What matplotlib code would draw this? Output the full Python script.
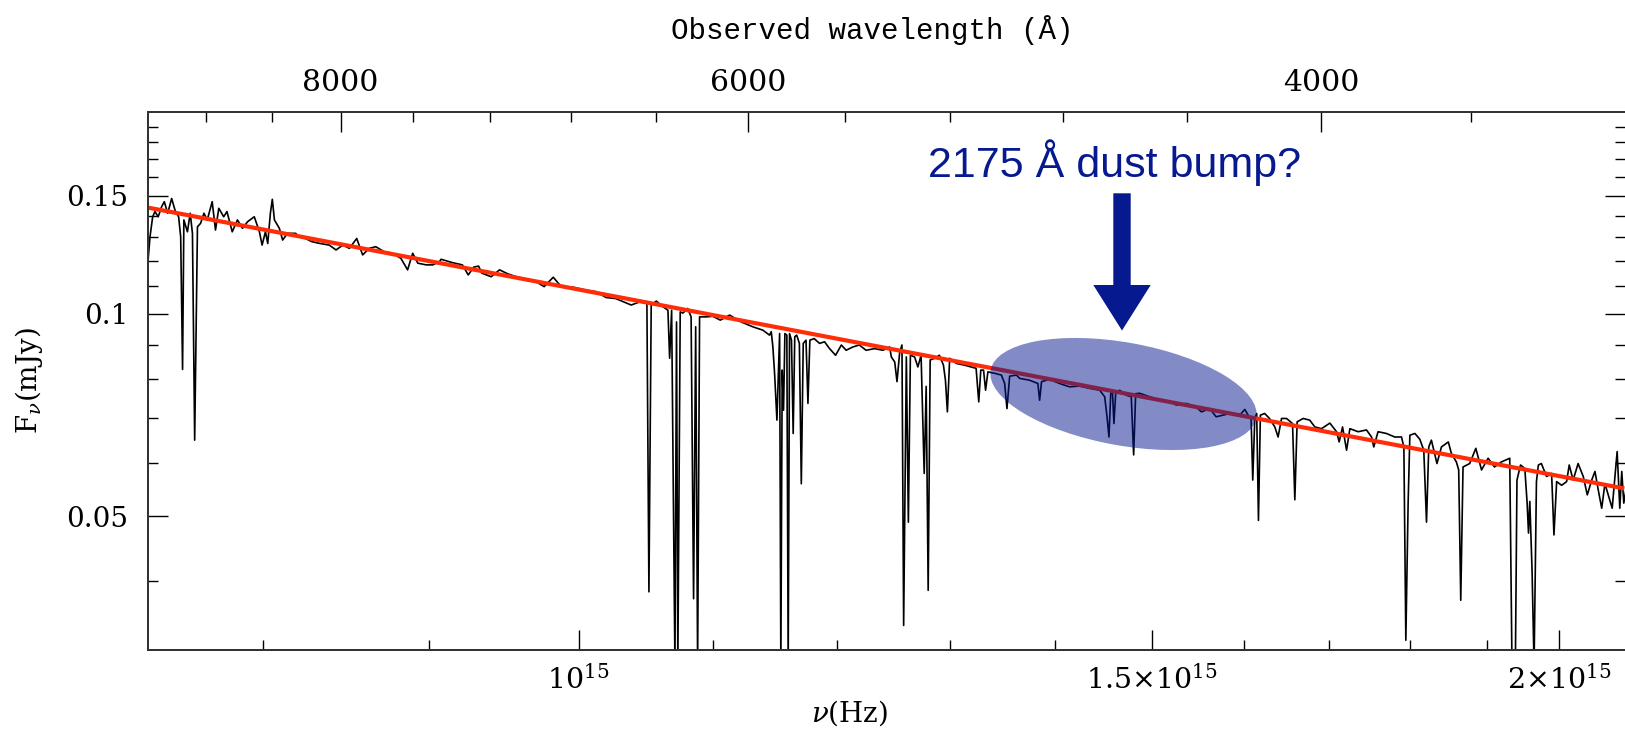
import numpy as np
import matplotlib
matplotlib.use("Agg")
import matplotlib.pyplot as plt
from matplotlib.patches import Ellipse, FancyArrow
from matplotlib.ticker import FixedLocator, FixedFormatter, NullFormatter
from matplotlib.transforms import ScaledTranslation

# ---------------- data ----------------
# rest-frame frequency in units of 1e15 Hz, flux density in mJy
nu = [
    0.7370, 0.7387, 0.7401, 0.7413, 0.7430, 0.7448, 0.7462, 0.7480, 0.7501, 0.7521,
    0.7538, 0.7549, 0.7559, 0.7566, 0.7585, 0.7600, 0.7612, 0.7624, 0.7639, 0.7656,
    0.7674, 0.7692, 0.7719, 0.7737, 0.7755, 0.7782, 0.7800, 0.7829, 0.7858, 0.7886,
    0.7915, 0.7952, 0.7981, 0.7996, 0.8015, 0.8028, 0.8043, 0.8054, 0.8066, 0.8094,
    0.8113, 0.8141, 0.8188, 0.8207, 0.8245, 0.8282, 0.8330, 0.8385, 0.8425, 0.8465,
    0.8505, 0.8549, 0.8585, 0.8625, 0.8665, 0.8715, 0.8766, 0.8820, 0.8862, 0.8894,
    0.8926, 0.8979, 0.9021, 0.9064,
    0.9074, 0.9148, 0.9212, 0.9250, 0.9286, 0.9318, 0.9339, 0.9401, 0.9457, 0.9513,
    0.9569, 0.9636, 0.9703, 0.9760, 0.9823, 0.9878, 0.9960, 1.0054, 1.0125, 1.0196,
    1.0267, 1.0379, 1.0441, 1.0495, 1.0510, 1.0527, 1.0565, 1.0614, 1.0652, 1.0665,
    1.0680, 1.0705, 1.0717, 1.0727, 1.0745, 1.0765, 1.0802, 1.0828, 1.0847, 1.0863,
    1.0878, 1.0893, 1.0945, 1.0996, 1.1054, 1.1100,
    1.1127, 1.1218, 1.1310, 1.1391, 1.1445, 1.1459, 1.1472, 1.1486, 1.1505, 1.1527,
    1.1537, 1.1548, 1.1559, 1.1570, 1.1586, 1.1597, 1.1608, 1.1624, 1.1638, 1.1651,
    1.1667, 1.1689, 1.1705, 1.1721, 1.1744, 1.1760, 1.1776, 1.1812, 1.1857, 1.1899,
    1.1941, 1.1992, 1.2041, 1.2082, 1.2139, 1.2195, 1.2253, 1.2327, 1.2400, 1.2459,
    1.2474, 1.2504, 1.2524, 1.2548, 1.2568, 1.2583, 1.2607, 1.2625, 1.2643, 1.2681,
    1.2710, 1.2739, 1.2767, 1.2785, 1.2803, 1.2821, 1.2860, 1.2905, 1.2942, 1.2960,
    1.2978, 1.2999, 1.3061, 1.3137, 1.3197, 1.3244, 1.3269, 1.3288, 1.3314, 1.3333,
    1.3355, 1.3419, 1.3483, 1.3514, 1.3536, 1.3562, 1.3627,
    1.3658, 1.3753, 1.3835, 1.3852, 1.3871, 1.3950, 1.4049, 1.4148, 1.4247, 1.4350,
    1.4453, 1.4504, 1.4528, 1.4548, 1.4566, 1.4583, 1.4599, 1.4617, 1.4658, 1.4726,
    1.4779, 1.4804, 1.4825, 1.4867, 1.4973, 1.5080, 1.5186, 1.5257, 1.5366, 1.5476,
    1.5531, 1.5622, 1.5693, 1.5768, 1.5844, 1.5957, 1.6014, 1.6062, 1.6085, 1.6104,
    1.6127, 1.6149, 1.6169, 1.6191, 1.6240, 1.6296, 1.6357, 1.6395, 1.6435, 1.6493,
    1.6563, 1.6590, 1.6617, 1.6688, 1.6766,
    1.6826, 1.6906, 1.7006, 1.7086, 1.7118, 1.7159, 1.7208, 1.7248, 1.7348, 1.7452,
    1.7514, 1.7542, 1.7595, 1.7699, 1.7804, 1.7889, 1.7919, 1.7944, 1.7973, 1.7995,
    1.8059, 1.8122, 1.8173, 1.8208, 1.8237, 1.8271, 1.8343, 1.8401, 1.8491, 1.8531,
    1.8597, 1.8627, 1.8654, 1.8684, 1.8772, 1.8854, 1.8930, 1.9018, 1.9104, 1.9194,
    1.9311, 1.9342, 1.9388, 1.9410, 1.9459, 1.9518, 1.9550, 1.9569, 1.9587, 1.9618,
    1.9646, 1.9679, 1.9706, 1.9748, 1.9820, 1.9891, 1.9924, 1.9962, 2.0033, 2.0103,
    2.0140, 2.0196, 2.0267, 2.0341, 2.0399, 2.0463, 2.0510, 2.0558, 2.0608, 2.0655,
    2.0703, 2.0761, 2.0801, 2.0834, 2.0873, 2.0902, 2.0932, 2.0980,
]
flux = [
    0.1136, 0.1302, 0.1395, 0.1420, 0.1395, 0.1444, 0.1469, 0.1412, 0.1485, 0.1420,
    0.1395, 0.1302, 0.0827, 0.1380, 0.1325, 0.1412, 0.1318, 0.0649, 0.1348, 0.1364,
    0.1412, 0.1380, 0.1469, 0.1333, 0.1436, 0.1395, 0.1420, 0.1325, 0.1380, 0.1341,
    0.1372, 0.1395, 0.1325, 0.1266, 0.1325, 0.1273, 0.1412, 0.1481, 0.1380, 0.1341,
    0.1288, 0.1318, 0.1318, 0.1302, 0.1295, 0.1281, 0.1273, 0.1266, 0.1245, 0.1266,
    0.1252, 0.1295, 0.1224, 0.1252, 0.1259, 0.1238, 0.1231, 0.1210, 0.1163, 0.1231,
    0.1190, 0.1183, 0.1183, 0.1196,
    0.1206, 0.1192, 0.1183, 0.1143, 0.1174, 0.1178, 0.1150, 0.1136, 0.1163, 0.1147,
    0.1136, 0.1126, 0.1117, 0.1098, 0.1134, 0.1098, 0.1096, 0.1085, 0.1079, 0.1058,
    0.1054, 0.1031, 0.1042, 0.1037, 0.0386, 0.1031, 0.1045, 0.1025, 0.1013, 0.0859,
    0.1013, 0.0300, 0.0973, 0.0300, 0.1007, 0.1003, 0.1019, 0.0990, 0.0377, 0.0957,
    0.0300, 0.0990, 0.0990, 0.0992, 0.0979, 0.0990,
    0.0996, 0.0973, 0.0957, 0.0946, 0.0930, 0.0941, 0.0894, 0.0816, 0.0695, 0.0935,
    0.0300, 0.0825, 0.0719, 0.0935, 0.0930, 0.0300, 0.0935, 0.0914, 0.0664, 0.0925,
    0.0930, 0.0904, 0.0559, 0.0904, 0.0914, 0.0736, 0.0914, 0.0919, 0.0904, 0.0909,
    0.0888, 0.0868, 0.0899, 0.0883, 0.0893, 0.0899, 0.0883, 0.0888, 0.0883, 0.0893,
    0.0863, 0.0848, 0.0793, 0.0878, 0.0899, 0.0344, 0.0863, 0.0490, 0.0868, 0.0863,
    0.0834, 0.0868, 0.0579, 0.0780, 0.0388, 0.0854, 0.0859, 0.0868, 0.0839, 0.0797,
    0.0715, 0.0859, 0.0844, 0.0839, 0.0834, 0.0830, 0.0740, 0.0825, 0.0825, 0.0770,
    0.0820, 0.0816, 0.0811, 0.0788, 0.0723, 0.0808, 0.0811,
    0.0802, 0.0797, 0.0788, 0.0744, 0.0793, 0.0799, 0.0788, 0.0779, 0.0781, 0.0775,
    0.0770, 0.0753, 0.0703, 0.0656, 0.0761, 0.0770, 0.0687, 0.0761, 0.0770, 0.0757,
    0.0753, 0.0617, 0.0761, 0.0762, 0.0753, 0.0744, 0.0740, 0.0732, 0.0736, 0.0726,
    0.0715, 0.0723, 0.0703, 0.0707, 0.0711, 0.0707, 0.0721, 0.0703, 0.0699, 0.0566,
    0.0699, 0.0711, 0.0493, 0.0707, 0.0711, 0.0699, 0.0679, 0.0656, 0.0699, 0.0699,
    0.0687, 0.0529, 0.0691, 0.0699, 0.0695,
    0.0679, 0.0675, 0.0688, 0.0668, 0.0645, 0.0679, 0.0627, 0.0675, 0.0668, 0.0672,
    0.0656, 0.0634, 0.0668, 0.0664, 0.0656, 0.0656, 0.0634, 0.0327, 0.0523, 0.0660,
    0.0664, 0.0651, 0.0627, 0.0490, 0.0634, 0.0649, 0.0599, 0.0634, 0.0645, 0.0620,
    0.0602, 0.0586, 0.0375, 0.0592, 0.0599, 0.0631, 0.0586, 0.0610, 0.0592, 0.0602,
    0.0610, 0.0300, 0.0300, 0.0566, 0.0596, 0.0589, 0.0523, 0.0472, 0.0526, 0.0416,
    0.0300, 0.0563, 0.0596, 0.0599, 0.0573, 0.0579, 0.0469, 0.0563, 0.0556, 0.0563,
    0.0596, 0.0566, 0.0599, 0.0573, 0.0538, 0.0566, 0.0583, 0.0547, 0.0514, 0.0559,
    0.0538, 0.0514, 0.0573, 0.0624, 0.0514, 0.0583, 0.0523, 0.0560,
]

# power-law fit (end points, 1e15 Hz / mJy)
fit_nu = [0.7374, 2.094]
fit_flux = [0.1440, 0.0550]

# axis ticks
x_major = [1.0, 1.5, 2.0]
x_major_labels = [r"$10^{15}$", r"$1.5{\times}10^{15}$", r"$2{\times}10^{15}$"]
x_minor = [0.8, 0.9, 1.1, 1.2, 1.3, 1.4, 1.6, 1.7, 1.8, 1.9]
y_major = [0.05, 0.1, 0.15]
y_major_labels = ["0.05", "0.1", "0.15"]
y_minor = [0.04, 0.06, 0.07, 0.08, 0.09, 0.11, 0.12, 0.13, 0.14, 0.16, 0.17, 0.18, 0.19]
wl_major = [4000, 6000, 8000]
wl_minor = [3600, 4400, 4800, 5200, 5600, 6400, 6800, 7200, 7600, 8400, 8800]
nu_wl_product = 6.762e18     # c (1+z) in Angstrom * Hz
xlim = (7.374e14, 2.095e15)
ylim = (10 ** -1.5, 10 ** -0.7)

# ---------------- figure ----------------
plt.rcParams["font.family"] = ["DejaVu Serif"]
plt.rcParams["mathtext.fontset"] = "dejavuserif"

BLUE = "#06198f"
RED = "#ff2d08"

fig = plt.figure(figsize=(16.25, 7.39), dpi=100)
ax = fig.add_axes([0.09077, 0.12043, 0.90923, 0.72761])

nu_hz = np.array(nu) * 1e15
ax.plot(nu_hz, flux, color="black", lw=1.2, zorder=2)
ax.plot(np.array(fit_nu) * 1e15, fit_flux, color=RED, lw=3.0, zorder=3,
        solid_capstyle="butt")

ax.set_xscale("log")
ax.set_yscale("log")
ax.set_xlim(*xlim)
ax.set_ylim(*ylim)

ax.xaxis.set_major_locator(FixedLocator(np.array(x_major) * 1e15))
ax.xaxis.set_major_formatter(FixedFormatter(x_major_labels))
ax.xaxis.set_minor_locator(FixedLocator(np.array(x_minor) * 1e15))
ax.xaxis.set_minor_formatter(NullFormatter())
ax.yaxis.set_major_locator(FixedLocator(y_major))
ax.yaxis.set_major_formatter(FixedFormatter(y_major_labels))
ax.yaxis.set_minor_locator(FixedLocator(y_minor))
ax.yaxis.set_minor_formatter(NullFormatter())

ax.tick_params(axis="both", which="major", direction="in", length=14.4, width=1.0,
               colors="black", top=False, right=True)
ax.tick_params(axis="both", which="minor", direction="in", length=7.2, width=1.0,
               top=False, right=True)
ax.tick_params(axis="x", which="major", pad=11, labelsize=20.5)
ax.tick_params(axis="y", which="major", pad=14, labelsize=20)

for side in ["left", "bottom", "top"]:
    ax.spines[side].set_linewidth(1.4)
    ax.spines[side].set_color("#333333")
ax.spines["right"].set_visible(False)

# top axis: observed wavelength
ax2 = ax.twiny()
ax2.set_xscale("log")
ax2.set_xlim(*xlim)
ax2.xaxis.set_major_locator(FixedLocator([nu_wl_product / w for w in wl_major]))
ax2.xaxis.set_major_formatter(FixedFormatter([str(w) for w in wl_major]))
ax2.xaxis.set_minor_locator(FixedLocator([nu_wl_product / w for w in wl_minor]))
ax2.xaxis.set_minor_formatter(NullFormatter())
ax2.tick_params(axis="x", which="major", direction="in", length=14.4, width=1.0,
                labelsize=21.5, pad=11)
ax2.tick_params(axis="x", which="minor", direction="in", length=7.2, width=1.0)
for side in ["left", "bottom", "top"]:
    ax2.spines[side].set_linewidth(1.4)
    ax2.spines[side].set_color("#333333")
ax2.spines["right"].set_visible(False)

# labels
fig.text(872 / 1625, 1 - 39 / 739, "Observed wavelength (Å)", family="Liberation Mono",
         fontsize=21, ha="center", va="baseline")
fig.text(850 / 1625, 1 - 722 / 739, r"$\nu$(Hz)", fontsize=20, ha="center", va="baseline")
fig.text(29 / 1625, 1 - 381 / 739, r"F$_\nu$(mJy)", fontsize=20, rotation=90,
         ha="center", va="center")

# annotation: shaded ellipse, arrow and text
etrans = fig.dpi_scale_trans + ScaledTranslation(1123.5 / 1625, 1 - 394 / 739, fig.transFigure)
ell = Ellipse((0, 0), width=2.70, height=1.03, angle=-10.2, transform=etrans,
              facecolor=BLUE, edgecolor="none", alpha=0.5, zorder=5)
fig.add_artist(ell)

arr = FancyArrow(1122 / 1625, 1 - 193.3 / 739, 0, -(330.5 - 193.3) / 739,
                 width=17.4 / 1625, head_width=57.4 / 1625, head_length=45.5 / 739,
                 length_includes_head=True, transform=fig.transFigure,
                 color=BLUE, lw=0, zorder=6)
fig.add_artist(arr)

fig.text(1115 / 1625, 1 - 176.7 / 739, "2175 Å dust bump?", family="Liberation Sans",
         fontsize=31, color=BLUE, ha="center", va="baseline")

fig.savefig("out.png", dpi=100)
